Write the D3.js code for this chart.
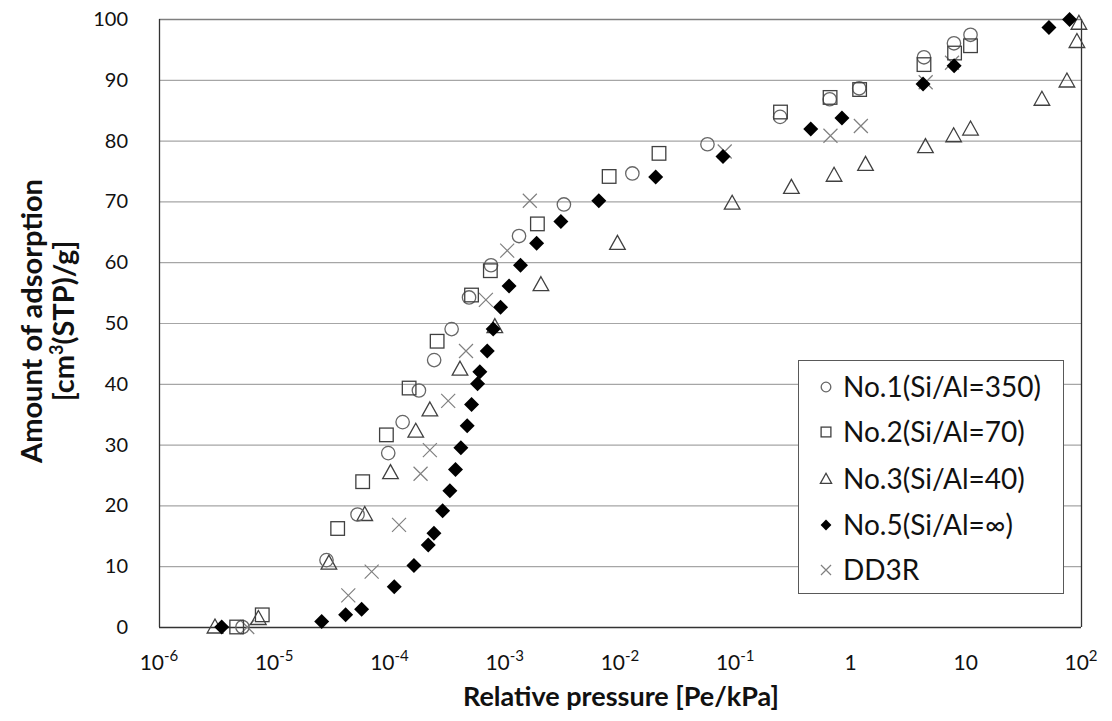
<!DOCTYPE html>
<html><head><meta charset="utf-8">
<script src="https://cdn.jsdelivr.net/npm/d3@7"></script>
<style>body{margin:0;background:#fff}svg{display:block}text{font-family:Lato,"Open Sans",sans-serif}</style>
</head><body><svg id="c" width="1112" height="721"></svg>
<script>
const no1X=[5.3e-6,2.84e-5,5.28e-5,9.75e-5,1.30e-4,1.80e-4,2.44e-4,3.46e-4,4.9e-4,7.6e-4,1.33e-3,3.26e-3,1.28e-2,5.74e-2,0.245,0.66,1.19,4.34,7.9,11.0];
const no1Y=[0,11.0,18.5,28.6,33.7,38.9,43.9,49.0,54.2,59.5,64.3,69.5,74.6,79.4,83.9,86.8,88.6,93.7,96.0,97.4];
const no2X=[4.72e-6,7.87e-6,3.55e-5,5.85e-5,9.4e-5,1.48e-4,2.59e-4,5.15e-4,7.5e-4,1.92e-3,8.05e-3,2.18e-2,0.247,0.665,1.2,4.34,8.0,11.0];
const no2Y=[0,2.0,16.2,23.9,31.6,39.3,47.0,54.6,58.6,66.3,74.1,77.9,84.7,87.1,88.4,92.5,94.4,95.6];
const no3X=[3.06e-6,7.28e-6,2.98e-5,6.1e-5,1.02e-4,1.69e-4,2.24e-4,4.09e-4,8.2e-4,2.06e-3,9.5e-3,9.4e-2,0.307,0.72,1.35,4.47,7.85,11.0,45.8,75.5,92.2,95.9];
const no3Y=[0,1.4,10.5,18.5,25.4,32.2,35.7,42.4,49.4,56.3,63.1,69.7,72.3,74.3,76.1,79.0,80.8,81.9,86.8,89.8,96.3,99.3];
const no5X=[3.5e-6,2.58e-5,4.16e-5,5.73e-5,1.10e-4,1.63e-4,2.17e-4,2.43e-4,2.89e-4,3.34e-4,3.74e-4,4.16e-4,4.72e-4,5.15e-4,5.81e-4,6.08e-4,7.05e-4,7.94e-4,9.2e-4,1.09e-3,1.37e-3,1.89e-3,3.07e-3,6.55e-3,2.04e-2,7.83e-2,0.452,0.843,4.26,7.93,52.7,79.6];
const no5Y=[0,0.9,2.0,2.9,6.6,10.1,13.5,15.4,19.1,22.4,25.9,29.5,33.1,36.6,40.0,42.0,45.4,49.0,52.6,56.1,59.5,63.1,66.7,70.1,74.0,77.4,81.9,83.7,89.3,92.3,98.6,99.9];
const dd3rX=[5.83e-6,4.39e-5,7.0e-5,1.21e-4,1.86e-4,2.24e-4,3.23e-4,4.61e-4,6.86e-4,1.05e-3,1.65e-3,8.1e-2,0.67,1.23,4.49,7.6];
const dd3rY=[0,5.2,9.1,16.8,25.2,29.1,37.2,45.4,53.8,61.9,70.1,78.2,80.8,82.4,89.6,92.8];
const seriesNames=["No.1(Si/Al=350)","No.2(Si/Al=70)","No.3(Si/Al=40)","No.5(Si/Al=\u221E)","DD3R"];
const xTickExp=[-6,-5,-4,-3,-2,-1,0,1,2];
const yTicks=[0,10,20,30,40,50,60,70,80,90,100];

const svg=d3.select("#c");
const L=159,R=1081,T=19,B=627;
const x=d3.scaleLog().domain([1e-6,100]).range([L,R]);
const y=d3.scaleLinear().domain([0,100]).range([B,T]);

// gridlines
svg.append("g").selectAll("line").data(yTicks.filter(v=>v>0&&v<100)).join("line")
 .attr("x1",L).attr("x2",R).attr("y1",d=>y(d)+0.5).attr("y2",d=>y(d)+0.5)
 .attr("stroke","#a6a6a6").attr("stroke-width",1.2);
// frame
svg.append("line").attr("x1",L).attr("x2",R).attr("y1",T+0.5).attr("y2",T+0.5).attr("stroke","#7f7f7f").attr("stroke-width",1.5);
svg.append("line").attr("x1",R+0.5).attr("x2",R+0.5).attr("y1",T).attr("y2",B).attr("stroke","#333").attr("stroke-width",1.3);
svg.append("line").attr("x1",L+0.5).attr("x2",L+0.5).attr("y1",T).attr("y2",B).attr("stroke","#333").attr("stroke-width",1.3);
svg.append("line").attr("x1",L).attr("x2",R).attr("y1",B+0.5).attr("y2",B+0.5).attr("stroke","#333").attr("stroke-width",1.3);

// y tick labels
svg.append("g").selectAll("text").data(yTicks).join("text")
 .attr("x",128).attr("y",d=>y(d)+7).attr("text-anchor","end")
 .attr("font-size",20).attr("fill","#111").text(d=>d);
// x tick labels
const xt=svg.append("g").selectAll("text").data(xTickExp).join("text")
 .attr("x",d=>x(Math.pow(10,d))).attr("y",670).attr("text-anchor","middle")
 .attr("font-size",21).attr("fill","#111");
xt.each(function(d){
  const t=d3.select(this);
  if(d===0){t.text("1");}
  else if(d===1){t.text("10");}
  else{t.append("tspan").text("10");t.append("tspan").attr("dy",-9).attr("font-size",15).text(String(d));}
});
// axis titles
svg.append("text").attr("x",621).attr("y",706).attr("text-anchor","middle")
 .attr("font-size",27).attr("font-weight","bold").attr("fill","#111").text("Relative pressure [Pe/kPa]");
const yt=svg.append("g").attr("transform","translate(0,321) rotate(-90)");
yt.append("text").attr("x",0).attr("y",42).attr("text-anchor","middle")
 .attr("font-size",29).attr("font-weight","bold").attr("fill","#111").text("Amount of adsorption");
const yt2=yt.append("text").attr("x",0).attr("y",74).attr("text-anchor","middle")
 .attr("font-size",29).attr("font-weight","bold").attr("fill","#111");
yt2.append("tspan").text("[cm");
yt2.append("tspan").attr("dy",-11).attr("font-size",18).text("3");
yt2.append("tspan").attr("dy",11).text("(STP)/g]");

// markers
function drawMarker(g,type,cx,cy,s){
  if(type===0) g.append("circle").attr("cx",cx).attr("cy",cy).attr("r",6.7*s).attr("fill","none").attr("stroke","#666").attr("stroke-width",1.3);
  if(type===1) g.append("rect").attr("x",cx-6.8*s).attr("y",cy-6.8*s).attr("width",13.6*s).attr("height",13.6*s).attr("fill","none").attr("stroke","#404040").attr("stroke-width",1.3);
  if(type===2) g.append("path").attr("d",`M${cx},${cy-8*s}L${cx+7.8*s},${cy+6*s}L${cx-7.8*s},${cy+6*s}Z`).attr("fill","none").attr("stroke","#404040").attr("stroke-width",1.3);
  if(type===3) g.append("path").attr("d",`M${cx},${cy-7.5*s}L${cx+7.5*s},${cy}L${cx},${cy+7.5*s}L${cx-7.5*s},${cy}Z`).attr("fill","#000");
  if(type===4) g.append("path").attr("d",`M${cx-7*s},${cy-7*s}L${cx+7*s},${cy+7*s}M${cx+7*s},${cy-7*s}L${cx-7*s},${cy+7*s}`).attr("stroke","#808080").attr("stroke-width",1.2).attr("fill","none");
}
const data=[[no1X,no1Y],[no2X,no2Y],[no3X,no3Y],[no5X,no5Y],[dd3rX,dd3rY]];
const order=[4,2,0,1,3];
order.forEach(i=>{
  const g=svg.append("g");
  data[i][0].forEach((xv,k)=>drawMarker(g,i,x(xv),y(data[i][1][k]),1));
});

// legend
const lg=svg.append("g");
lg.append("rect").attr("x",798.5).attr("y",360.5).attr("width",265).attr("height",233).attr("fill","#fff").attr("stroke","#595959").attr("stroke-width",1);
const ly=[387,432,479,525,570];
seriesNames.forEach((n,i)=>{
  drawMarker(lg,i,826,ly[i],0.72);
  lg.append("text").attr("x",843).attr("y",ly[i]+10).attr("font-size",28).attr("fill","#111").text(n);
});
</script></body></html>
